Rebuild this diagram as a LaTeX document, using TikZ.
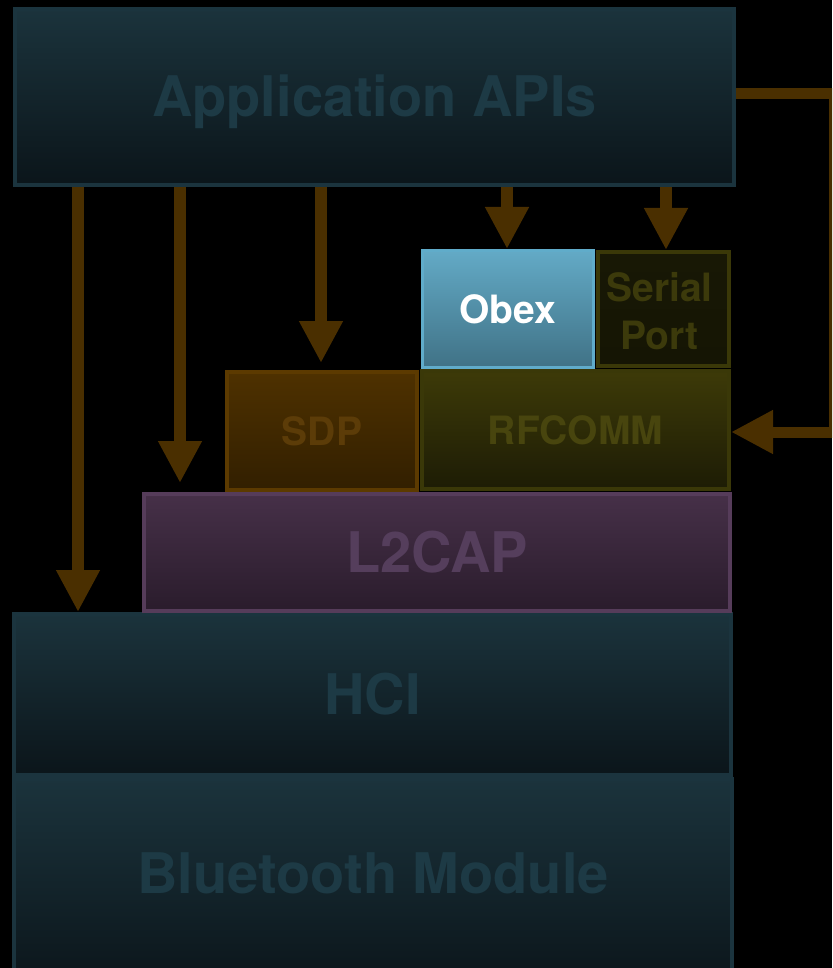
\documentclass[tikz,border=0pt]{standalone}
\usepackage{fontspec}
\setmainfont{TeX Gyre Heros}
\usetikzlibrary{arrows.meta}

% layer colours
\definecolor{arrowc}{RGB}{74,47,0}
\definecolor{hwtop}{RGB}{27,51,60}
\definecolor{hwbot}{RGB}{11,21,26}
\definecolor{hwbd}{RGB}{27,52,62}
\definecolor{hwtx}{RGB}{29,58,69}
\definecolor{obtop}{RGB}{99,170,198}
\definecolor{obbot}{RGB}{64,114,134}
\definecolor{obbd}{RGB}{96,172,202}
\definecolor{olbd}{RGB}{58,56,8}
\definecolor{sptop}{RGB}{24,24,5}
\definecolor{spbot}{RGB}{21,21,4}
\definecolor{oltx}{RGB}{60,58,11}
\definecolor{rftop}{RGB}{61,58,8}
\definecolor{rfbot}{RGB}{29,28,5}
\definecolor{rftx}{RGB}{72,69,14}
\definecolor{sdbd}{RGB}{92,58,0}
\definecolor{sdtop}{RGB}{78,49,0}
\definecolor{sdbot}{RGB}{50,31,0}
\definecolor{sdtx}{RGB}{92,60,8}
\definecolor{l2bd}{RGB}{86,60,90}
\definecolor{l2top}{RGB}{70,48,72}
\definecolor{l2bot}{RGB}{42,28,44}
\definecolor{l2tx}{RGB}{85,62,92}

\tikzset{
  layer/.style={draw, line width=4pt, inner sep=0pt, anchor=north west,
    font=\bfseries\fontsize{56}{60}\selectfont, text height=40pt, text depth=0pt},
  smalltext/.style={font=\bfseries\fontsize{39}{48}\selectfont, text height=28pt},
  hw/.style={layer, draw=hwbd, top color=hwtop, bottom color=hwbot, text=hwtx},
  link/.style={draw=arrowc, line width=12pt, line join=miter,
    -{Triangle[length=42pt,width=41pt]}}
}

\begin{document}
\begin{tikzpicture}[x=1pt,y=-1pt]
  \fill[black] (0,0) rectangle (832,968);
  \useasboundingbox (0,0) rectangle (832,968);
  \clip (0,0) rectangle (832,968);

  % hardware side (the module runs off the bottom edge)
  \node[hw, minimum width=717pt, minimum height=161pt] (hci) at (12,612) {HCI};
  \node[hw, minimum width=718pt, minimum height=210pt, text depth=22pt]
        (bt) at (12,777) {Bluetooth Module};

  % protocol layers
  \node[layer, draw=l2bd, top color=l2top, bottom color=l2bot, text=l2tx,
        minimum width=586pt, minimum height=117pt] (l2cap) at (142,492) {L2CAP};
  \node[layer, smalltext, draw=sdbd, top color=sdtop, bottom color=sdbot, text=sdtx,
        minimum width=190pt, minimum height=118pt] (sdp) at (225,370) {SDP};
  \node[layer, smalltext, draw=olbd, top color=rftop, bottom color=rfbot, text=rftx,
        minimum width=307pt, minimum height=118pt] (rfcomm) at (420,369) {RFCOMM};
  \node[layer, smalltext, draw=olbd, top color=sptop, bottom color=spbot, text=oltx,
        minimum width=131pt, minimum height=114pt] (serial) at (596,250) {};
  \node[smalltext, text=oltx, align=center, inner sep=0pt, text height=, text depth=0pt]
        (seriallabel) at ([xshift=-4pt,yshift=-1.5pt]serial.center) {Serial\\Port};
  \node[layer, smalltext, line width=3pt, draw=obbd, top color=obtop, bottom color=obbot,
        text=white, minimum width=171pt, minimum height=117pt] (obex) at (421,249) {Obex};

  % application layer
  \node[hw, minimum width=719pt, minimum height=176pt] (app) at (13,7) {Application APIs};

  % calls from the application layer
  \draw[link] (app.south -| 78,0) -- (hci.north -| 78,0);
  \draw[link] (app.south -| 180,0) -- ([yshift=9pt]l2cap.north -| 180,0);
  \draw[link] (app.south -| 321,0) -- ([yshift=7pt]sdp.north -| 321,0);
  \draw[link] (app.south -| 507,0) -- (obex.north -| 507,0);
  \draw[link] (app.south -| 666,0) -- (serial.north -| 666,0);
  \draw[link, line width=11pt] (app.east |- 0,94) -- (834,94) -- (834,432)
        -- (rfcomm.east |- 0,432);
\end{tikzpicture}
\end{document}
